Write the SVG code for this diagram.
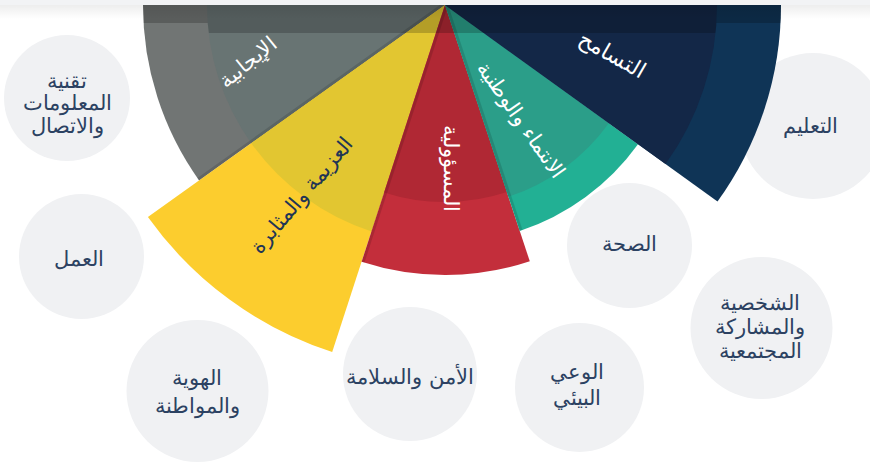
<svg xmlns="http://www.w3.org/2000/svg" width="870" height="462" viewBox="0 0 870 462">
  <defs>
    <style>
      .bubble { fill: #f0f1f3; }
      .btxt { font-family: "DejaVu Sans", sans-serif; font-size: 21px; font-weight: 300; fill: #2c4262; text-anchor: middle; }
      .wtxt { font-family: "DejaVu Sans", sans-serif; font-size: 21px; font-weight: 300; fill: #ffffff; text-anchor: middle; }
      .dtxt { font-family: "DejaVu Sans", sans-serif; font-size: 21px; font-weight: 300; fill: #1f3555; text-anchor: middle; }
      .edge { stroke: #000; stroke-opacity: 0.13; stroke-width: 6; fill: none; }
      .band { fill: #000; fill-opacity: 0.2; }
    </style>
    <linearGradient id="topShadow" x1="0" y1="0" x2="0" y2="1">
      <stop offset="0" stop-color="#000" stop-opacity="0.07"/>
      <stop offset="1" stop-color="#000" stop-opacity="0"/>
    </linearGradient>
    <clipPath id="fanClip">
      <path d="M445,5 L143,5 A302,302 0 0 0 199.1,180.4 Z"/>
      <path d="M445,5 L332.2,352.1 A365,365 0 0 1 147.9,217 Z"/>
      <path d="M445,5 L529.8,261.3 A270,270 0 0 1 361.6,261.8 Z"/>
      <path d="M445,5 L638,144.2 A238,238 0 0 1 519.7,231 Z"/>
      <path d="M445,5 L781,5 A336,336 0 0 1 717.5,201.6 Z"/>
    </clipPath>
    <clipPath id="innerClip">
      <path d="M445,5 L207,5 A238,238 0 0 0 251.2,143.2 Z"/>
      <path d="M445,5 L371.5,231.4 A238,238 0 0 1 251.2,143.2 Z"/>
      <path d="M445,5 L506.9,192 A197,197 0 0 1 384.1,192.4 Z"/>
      <path d="M445,5 L608.8,123.2 A202,202 0 0 1 508.4,196.8 Z"/>
      <path d="M445,5 L717,5 A272,272 0 0 1 665.6,164.1 Z"/>
    </clipPath>
    <clipPath id="grayClip"><path d="M445,5 L143,5 A302,302 0 0 0 199.1,180.4 Z"/></clipPath>
    <clipPath id="redClip"><path d="M445,5 L529.8,261.3 A270,270 0 0 1 361.6,261.8 Z"/></clipPath>
    <clipPath id="tealClip"><path d="M445,5 L638,144.2 A238,238 0 0 1 519.7,231 Z"/></clipPath>
  </defs>

  <rect x="0" y="0" width="870" height="462" fill="#ffffff"/>

  <!-- circles -->
  <g id="node-ict">
    <circle class="bubble" cx="67" cy="98" r="63"/>
    <text class="btxt" x="67" y="88">تقنية</text>
    <text class="btxt" x="67" y="110">المعلومات</text>
    <text class="btxt" x="67" y="133">والاتصال</text>
  </g>
  <g id="node-work">
    <circle class="bubble" cx="81.5" cy="256.5" r="62.5"/>
    <text class="btxt" x="79" y="266">العمل</text>
  </g>
  <g id="node-identity">
    <circle class="bubble" cx="197.5" cy="391" r="71"/>
    <text class="btxt" x="197" y="385">الهوية</text>
    <text class="btxt" x="197" y="413">والمواطنة</text>
  </g>
  <g id="node-security">
    <circle class="bubble" cx="410" cy="374" r="67"/>
    <text class="btxt" x="410" y="384">الأمن والسلامة</text>
  </g>
  <g id="node-environment">
    <circle class="bubble" cx="579.5" cy="387.5" r="64.5"/>
    <text class="btxt" x="577" y="379">الوعي</text>
    <text class="btxt" x="577" y="405">البيئي</text>
  </g>
  <g id="node-health">
    <circle class="bubble" cx="629.5" cy="245.5" r="62.5"/>
    <text class="btxt" x="629" y="251">الصحة</text>
  </g>
  <g id="node-personality">
    <circle class="bubble" cx="761.5" cy="328" r="71"/>
    <text class="btxt" x="760" y="310">الشخصية</text>
    <text class="btxt" x="760" y="334">والمشاركة</text>
    <text class="btxt" x="760" y="358">المجتمعية</text>
  </g>
  <g id="node-education">
    <circle class="bubble" cx="813" cy="126" r="73"/>
    <text class="btxt" x="810" y="133">التعليم</text>
  </g>

  <!-- fan wedges -->
  <g id="wedge-positivity">
    <path d="M445,5 L143,5 A302,302 0 0 0 199.1,180.4 Z" fill="#717574"/>
    <path d="M445,5 L207,5 A238,238 0 0 0 251.2,143.2 Z" fill="#687473"/>
  </g>
  <g id="wedge-determination">
    <path d="M445,5 L332.2,352.1 A365,365 0 0 1 147.9,217 Z" fill="#fccd2e"/>
    <path d="M445,5 L371.5,231.4 A238,238 0 0 1 251.2,143.2 Z" fill="#e2c631"/>
  </g>
  <g id="wedge-responsibility">
    <path d="M445,5 L529.8,261.3 A270,270 0 0 1 361.6,261.8 Z" fill="#c32e3b"/>
    <path d="M445,5 L506.9,192 A197,197 0 0 1 384.1,192.4 Z" fill="#b02834"/>
  </g>
  <g id="wedge-belonging">
    <path d="M445,5 L638,144.2 A238,238 0 0 1 519.7,231 Z" fill="#22b094"/>
    <path d="M445,5 L608.8,123.2 A202,202 0 0 1 508.4,196.8 Z" fill="#2b9e89"/>
  </g>
  <g id="wedge-tolerance">
    <path d="M445,5 L781,5 A336,336 0 0 1 717.5,201.6 Z" fill="#0f3456"/>
    <path d="M445,5 L717,5 A272,272 0 0 1 665.6,164.1 Z" fill="#132747"/>
  </g>

  <!-- shading -->
  <g id="shading">
    <line class="edge" x1="445" y1="5" x2="199.1" y2="180.4" clip-path="url(#grayClip)"/>
    <line class="edge" x1="445" y1="5" x2="361.6" y2="261.8" clip-path="url(#redClip)"/>
    <line class="edge" x1="445" y1="5" x2="519.7" y2="231" clip-path="url(#tealClip)"/>
    <rect class="band" x="0" y="0" width="870" height="23" clip-path="url(#fanClip)"/>
    <rect class="band" x="0" y="23" width="870" height="10" clip-path="url(#innerClip)"/>
  </g>

  <!-- wedge labels -->
  <g id="labels">
    <text class="wtxt" transform="translate(248,62) rotate(-39)" x="0" y="7">الإيجابية</text>
    <text class="dtxt" transform="translate(302,195) rotate(-49.5)" x="0" y="7">العزيمة والمثابرة</text>
    <text class="wtxt" transform="translate(450,168) rotate(90)" x="0" y="6">المسؤولية</text>
    <text class="wtxt" transform="translate(521,120) rotate(55)" x="0" y="7">الانتماء والوطنية</text>
    <text class="wtxt" transform="translate(612,55) rotate(30)" x="0" y="7" style="font-size:22px">التسامح</text>
  </g>

  <!-- top bar -->
  <rect x="0" y="5" width="870" height="14" fill="url(#topShadow)"/>
  <rect x="0" y="0" width="870" height="5" fill="#f2f3f5"/>
</svg>
